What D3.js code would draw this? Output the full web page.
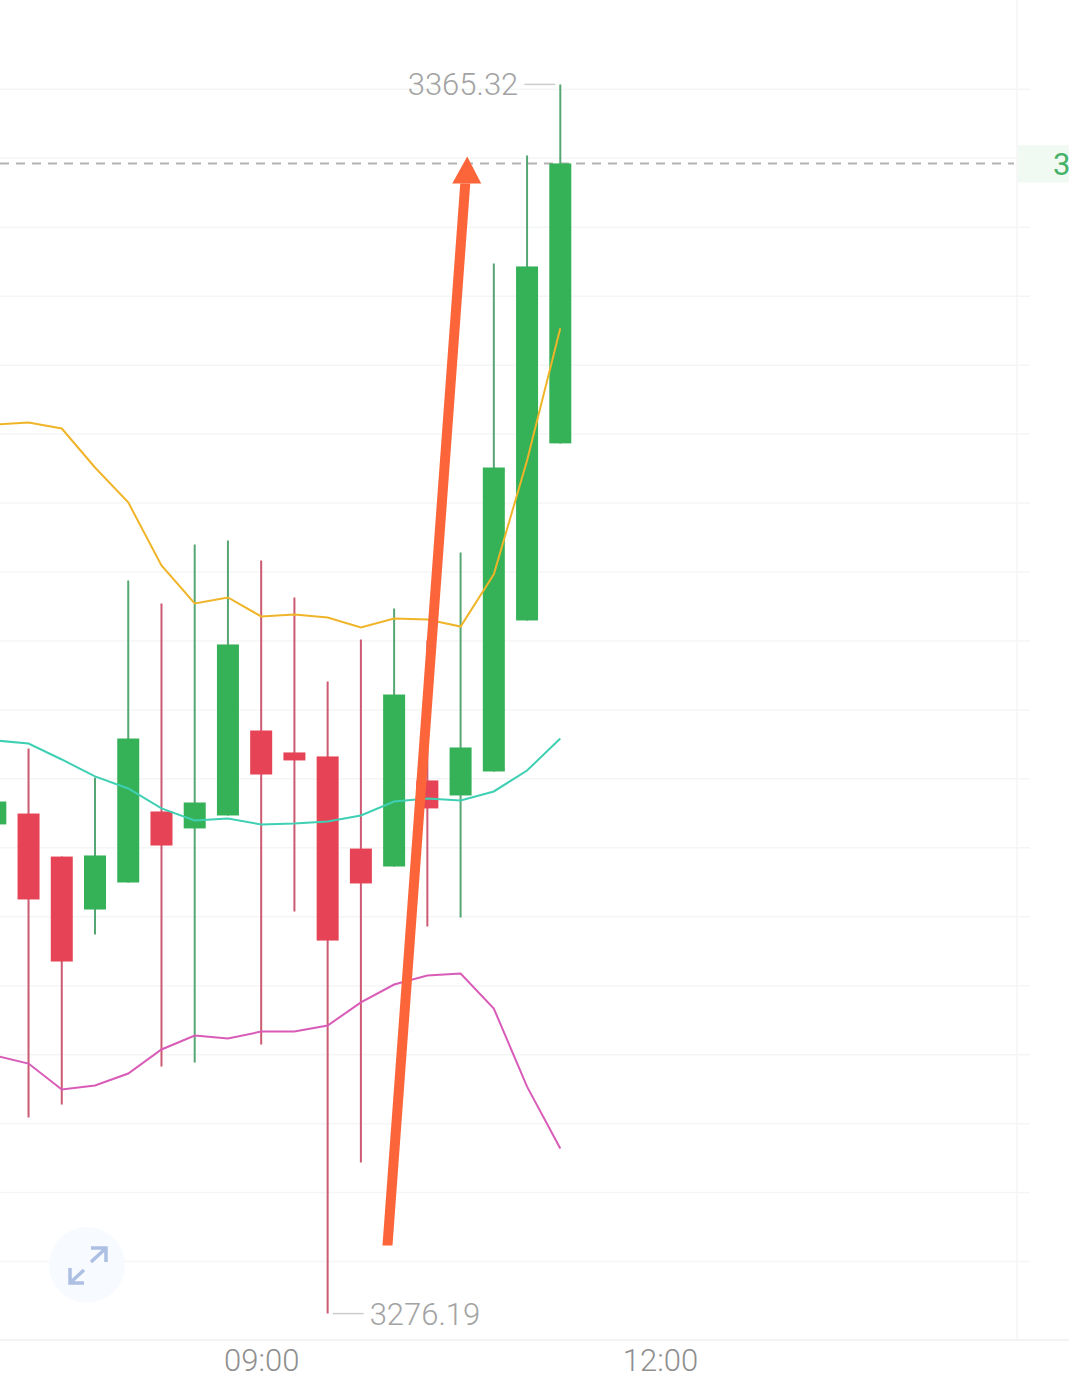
<!DOCTYPE html>
<html><head><meta charset="utf-8">
<script src="https://cdn.jsdelivr.net/npm/d3@7/dist/d3.min.js"></script>
<style>html,body{margin:0;padding:0;background:#fff;overflow:hidden}svg{display:block}</style>
</head><body><svg id="c" width="1069" height="1379"></svg>
<script>
const times=["07:00","07:15","07:30","07:45","08:00","08:15","08:30","08:45","09:00","09:15","09:30","09:45","10:00","10:15","10:30","10:45","11:00","11:15"];
const opens=[3311.66,3312.45,3309.33,3305.49,3307.45,3312.60,3311.37,3312.31,3318.47,3316.88,3316.59,3309.91,3308.61,3314.85,3313.76,3315.50,3326.45,3339.29];
const closes=[3313.32,3306.22,3301.72,3309.41,3317.89,3310.13,3313.25,3324.71,3315.28,3316.30,3303.24,3307.38,3321.08,3312.82,3317.24,3337.54,3352.12,3359.59];
const highs=[3313.32,3317.17,3309.33,3315.06,3329.35,3327.68,3331.96,3332.25,3330.80,3328.12,3322.03,3325.07,3327.32,3325.00,3331.38,3352.34,3360.17,3365.32];
const lows=[3311.66,3290.41,3291.35,3303.68,3307.45,3294.11,3294.40,3312.31,3295.70,3305.35,3276.19,3287.14,3308.61,3304.26,3304.91,3315.50,3326.45,3339.29];
const bollUpper=[3340.66,3340.81,3340.37,3337.54,3335.01,3330.44,3327.68,3328.12,3326.74,3326.88,3326.67,3325.94,3326.59,3326.52,3326.01,3329.79,3338.05,3347.63];
const bollMid=[3317.75,3317.53,3316.37,3315.14,3314.27,3312.82,3311.95,3312.09,3311.66,3311.73,3311.87,3312.31,3313.32,3313.54,3313.40,3314.05,3315.57,3317.89];
const bollLower=[3294.90,3294.32,3292.44,3292.73,3293.60,3295.34,3296.35,3296.14,3296.64,3296.64,3297.08,3298.75,3300.05,3300.70,3300.85,3298.31,3292.65,3288.16];
const gridPrices=d3.range(3280,3370,5);
const timeTicks=["09:00","12:00"];
const currentPrice=3359.59, currentLabel="3";
const highLabel="3365.32", lowLabel="3276.19", highPrice=3365.32, lowPrice=3276.19, highTime="11:15", lowTime="09:30";
const arrowFrom={t:"09:57",p:3281.12}, arrowTo={t:"10:33",p:3360.10};

const parse=d3.timeParse("%H:%M");
const font="Roboto, sans-serif";
const svg=d3.select("#c");
const x=d3.scaleTime().domain([parse("07:00"),parse("12:00")]).range([-4.7,660]);
const y=d3.scaleLinear().domain([lowPrice,highPrice]).range([1313.6,84.4]);

// frame
const gridG=svg.append("g");
const yAxis=d3.axisLeft(y).tickValues(gridPrices).tickSize(-1030).tickFormat("");
gridG.append("g").call(yAxis).call(g=>{
  g.select(".domain").remove();
  g.selectAll("line").attr("stroke","#f4f6f6").attr("stroke-width",1.5);
});
svg.append("line").attr("x1",1017).attr("x2",1017).attr("y1",0).attr("y2",1340).attr("stroke","#f5f5f5").attr("stroke-width",1.5);
const xAxis=d3.axisBottom(x).tickValues(timeTicks.map(parse)).tickSize(0).tickPadding(9).tickFormat(d3.timeFormat("%H:%M"));
svg.append("g").attr("transform","translate(0,1340)").call(xAxis).call(g=>{
  g.select(".domain").remove();
  g.selectAll("text").attr("font-family",font).attr("font-size",31).attr("font-weight",300).attr("fill","#8f8f8f");
});
svg.append("line").attr("x1",0).attr("x2",1069).attr("y1",1340).attr("y2",1340).attr("stroke","#f3f3f3").attr("stroke-width",2);

// expand button
svg.append("circle").attr("cx",87).attr("cy",1265).attr("r",38).attr("fill","#f7fafe");
svg.append("path").attr("d","M91 1248H106V1262M105 1249L91 1262M70 1268V1283H84M71 1282L84 1270")
  .attr("fill","none").attr("stroke","#adc0e4").attr("stroke-width",3.5);

// current price
svg.append("line").attr("x1",0).attr("x2",1014).attr("y1",y(currentPrice)).attr("y2",y(currentPrice))
  .attr("stroke","#b3b3b3").attr("stroke-width",2).attr("stroke-dasharray","9 7");
svg.append("rect").attr("x",1018).attr("y",y(currentPrice)-18).attr("width",51).attr("height",37).attr("fill","#f1f9f3");
svg.append("text").attr("x",1053).attr("y",y(currentPrice)+12).attr("font-family",font).attr("font-size",31).attr("font-weight",400).attr("fill","#45b268").text(currentLabel);

// candles
const green="#35b158", red="#e64456", greenWick="#55a673", redWick="#cb5a72";
const candles=times.map((t,i)=>({t:parse(t),o:opens[i],c:closes[i],h:highs[i],l:lows[i]}));
const cg=svg.selectAll("g.k").data(candles).join("g").attr("class","k");
cg.append("line").attr("x1",d=>x(d.t)).attr("x2",d=>x(d.t)).attr("y1",d=>y(d.h)).attr("y2",d=>y(d.l))
  .attr("stroke",d=>d.c>=d.o?greenWick:redWick).attr("stroke-width",2);
cg.append("rect").attr("x",d=>x(d.t)-11).attr("width",22)
  .attr("y",d=>y(Math.max(d.o,d.c))).attr("height",d=>Math.abs(y(d.o)-y(d.c)))
  .attr("fill",d=>d.c>=d.o?green:red);

// bollinger lines
const line=d3.line().x((d,i)=>x(parse(times[i]))).y(d=>y(d));
[[bollUpper,"#f0b429"],[bollMid,"#3fd0b4"],[bollLower,"#d95bb8"]].forEach(([s,c])=>{
  svg.append("path").attr("d",line(s)).attr("fill","none").attr("stroke",c).attr("stroke-width",2);
});

// high / low labels
const lab=(t,p,txt,side)=>{
  const X=x(parse(t)),Y=y(p);
  svg.append("line").attr("x1",X+side*5).attr("x2",X+side*36).attr("y1",Y).attr("y2",Y).attr("stroke","#cccccc").attr("stroke-width",1.5);
  svg.append("text").attr("x",X+side*42).attr("y",Y+11).attr("text-anchor",side>0?"start":"end")
    .attr("font-family",font).attr("font-size",31).attr("font-weight",300).attr("fill","#a3a3a3").text(txt);
};
lab(highTime,highPrice,highLabel,-1);
lab(lowTime,lowPrice,lowLabel,1);

// hand-drawn arrow
const ax0=x(parse(arrowFrom.t)),ay0=y(arrowFrom.p),ax1=x(parse(arrowTo.t)),ay1=y(arrowTo.p);
const orange="#fb6539";
const hy=ay1+27, hx=ax1-(ax1-ax0)*27/(ay0-ay1);
svg.append("polygon").attr("fill",orange).attr("points",[[ax0-5,ay0],[ax0+5,ay0],[hx+5,hy],[hx-5,hy]].join(" "));
svg.append("polygon").attr("fill",orange).attr("points",[[ax1,ay1],[ax1+14,hy],[ax1-15,hy]].join(" "));
</script></body></html>
